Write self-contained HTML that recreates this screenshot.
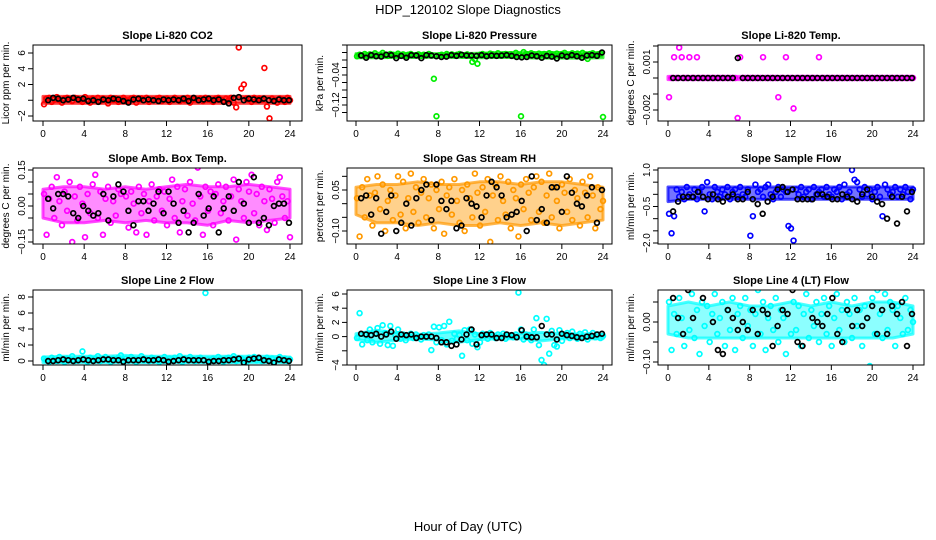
<!DOCTYPE html>
<html><head><meta charset="utf-8"><style>
body{margin:0;background:#fff;}
svg{display:block;font-family:"Liberation Sans",sans-serif;}
</style></head><body>
<svg id="c" width="936" height="540" xmlns="http://www.w3.org/2000/svg">
<rect width="936" height="540" fill="#fff"/>
<text x="468" y="14" text-anchor="middle" font-size="13">HDP_120102  Slope Diagnostics</text>
<text x="468" y="531" text-anchor="middle" font-size="13">Hour of Day (UTC)</text>
</svg>
<script>
const hourTicks = [0,4,8,12,16,20,24];
const bandHours = [0,2,4,6,8,10,12,14,16,18,20,22,24];

const co2Colored = [-0.5,0.2,0.3,-0.2,0.1,0.4,0,-0.3,0.2,0.3,0.1,-0.1,0.3,0.2,0,-0.2,0.4,0.1,-0.3,0.2,0,0.3,-0.1,0.2,0.1,-0.4,0.3,0,0.2,-0.2,0.1,0.3,0,-0.1,0.2,0.3,-0.3,0.1,0.2,0,0.3,-0.2,0.1,0,0.2,0.3,-0.1,0.1,0.2,-0.2,0,0.3,0.1,-0.1,0.2,0,0.3,-0.3,0.1,0.2,0,0.2,-0.1,0.3,0.1,0,-0.2,0.2,0.3,0.1,-0.1,0.2,0,0.3,-0.3,-0.9,6.7,1.5,2.0,0.2,0.1,-0.2,0.3,0,0.2,0.1,4.1,-0.8,-2.3,0.2,0,-0.3,0.2,0.1,-0.2,0.3,0];
const co2Black = [0,0.3,0.2,0,0.1,0.3,0.1,0.2,-0.1,0,-0.2,0.1,0,0.2,0.1,-0.1,-0.3,0.1,0.2,0,0.1,0,-0.1,0.1,0,0.1,0,0.2,-0.1,0.3,0,0.1,0.2,0,0.1,-0.2,-0.4,0.3,0.4,0,0.2,0.1,0,0.2,0,-0.1,0.1,0,0];
const co2BandLow = [-0.4,-0.4,-0.4,-0.4,-0.4,-0.4,-0.4,-0.4,-0.4,-0.4,-0.4,-0.4,-0.4];
const co2BandHigh = [0.5,0.5,0.5,0.5,0.5,0.5,0.5,0.5,0.5,0.5,0.5,0.5,0.5];

const presColored = [0.010,0.014,0.012,0.016,0.011,0.015,0.013,0.018,0.012,0.014,0.019,0.013,0.011,0.016,0.014,0.012,0.017,0.013,0.015,0.011,0.014,0.016,0.012,0.013,0.015,0.011,0.014,0.012,0.016,0.013,-0.05,-0.15,0.012,0.014,0.011,0.016,0.013,0.015,0.012,0.014,0.016,0.012,0.013,0.015,0.011,-0.005,0.002,-0.01,0.014,0.016,0.013,0.012,0.017,0.015,0.013,0.018,0.012,0.014,0.016,0.013,0.015,0.012,0.019,0.014,-0.15,0.021,0.016,0.013,0.018,0.015,0.012,0.017,0.014,0.016,0.011,0.018,0.015,0.013,0.017,0.012,0.016,0.019,0.014,0.013,0.018,0.015,0.017,0.012,0.019,0.014,0.003,0.016,0.018,0.013,0.015,0.017,-0.152];
const presBlack = [0.012,0.006,0.013,0.010,0.009,0.014,0.013,0.005,0.011,0.006,0.013,0.012,0.005,0.013,0.012,0.010,0.008,0.009,0.013,0.011,0.014,0.012,0.012,0.011,0.013,0.010,0.012,0.011,0.012,0.013,0.011,0.008,0.007,0.008,0.012,0.010,0.006,0.011,0.009,0.004,0.012,0.009,0.013,0.010,0.006,0.012,0.013,0.011,0.020];
const presBandLow = [0.006,0.006,0.007,0.007,0.007,0.007,0.006,0.007,0.006,0.005,0.005,0.005,0.006];
const presBandHigh = [0.017,0.018,0.018,0.017,0.017,0.017,0.018,0.020,0.020,0.020,0.020,0.020,0.019];

const tempColored = [-0.0012,0,0.0013,0,0.0019,0.0013,0,0,0.0013,0,0,0.0013,0,0,0,0,0,0,0,0,0,0,0,0,0,0,0,-0.0025,0.0013,0,0,0,0,0,0,0,0,0.0013,0,0,0,0,0,-0.0012,0,0,0.0013,0,0,-0.0019,0,0,0,0,0,0,0,0,0,0.0013,0,0,0,0,0,0,0,0,0,0,0,0,0,0,0,0,0,0,0,0,0,0,0,0,0,0,0,0,0,0,0,0,0,0,0,0,0];
const tempBlack = [0,0,0,0,0,0,0,0,0,0,0,0,0,0.00125,0,0,0,0,0,0,0,0,0,0,0,0,0,0,0,0,0,0,0,0,0,0,0,0,0,0,0,0,0,0,0,0,0,0,0];
const tempBandLow = [-0.0001,-0.0001,-0.0001,-0.0001,-0.0001,-0.0001,-0.0001,-0.0001,-0.0001,-0.0001,-0.0001,-0.0001,-0.0001];
const tempBandHigh = [0.0001,0.0001,0.0001,0.0001,0.0001,0.0001,0.0001,0.0001,0.0001,0.0001,0.0001,0.0001,0.0001];

const ambColored = [0.05,-0.12,0.03,0.08,-0.05,0.12,0.02,-0.08,0.06,-0.02,0.10,-0.15,0.04,-0.06,0.08,0.01,-0.13,0.05,-0.03,0.09,0.13,-0.05,0.06,-0.12,0.03,0.08,-0.07,0.02,-0.04,0.07,0.05,-0.17,0.04,-0.09,0.06,0.01,-0.11,0.08,-0.03,0.05,-0.12,0.02,0.09,-0.06,0.04,0.07,-0.02,0.06,-0.08,0.03,0.11,-0.05,0.08,-0.11,0.02,0.07,-0.04,0.10,0.01,-0.06,0.16,0.04,-0.12,0.08,-0.02,0.06,-0.08,0.05,0.09,-0.03,0.02,0.08,-0.06,0.04,0.11,-0.14,0.07,0.02,-0.05,0.10,0.06,0.13,-0.03,0.05,-0.08,0.08,0.02,-0.10,0.07,0.03,-0.07,0.10,0.12,0.04,-0.05,0.02,-0.13];
const ambBlack = [0.03,-0.01,0.05,0.05,0.04,-0.03,-0.05,0,-0.02,-0.04,-0.03,0.05,-0.06,0.04,0.09,0.06,-0.02,-0.08,0.02,0.02,-0.02,0.01,0.06,-0.03,0.06,0.01,-0.07,-0.02,-0.11,-0.07,0.05,-0.04,-0.01,0.04,-0.11,-0.01,0.04,-0.02,0.10,0.01,-0.07,0.12,-0.07,-0.05,-0.08,0,0.01,0.01,-0.07];
const ambBandLow = [-0.05,-0.07,-0.07,-0.06,-0.07,-0.06,-0.07,-0.07,-0.08,-0.06,-0.07,-0.06,-0.05];
const ambBandHigh = [0.07,0.08,0.08,0.07,0.08,0.07,0.08,0.09,0.08,0.08,0.09,0.08,0.07];

const rhColored = [0.02,-0.12,0.06,-0.05,0.09,0.03,-0.08,0.04,0.10,-0.02,0.07,-0.10,0.01,0.05,-0.06,0.03,0.10,-0.04,0.08,-0.09,0.02,0.11,-0.03,0.06,-0.07,0.04,0.09,-0.05,0.02,0.07,-0.09,0.05,-0.02,0.08,-0.11,0.03,0.06,-0.04,0.09,0.01,-0.07,0.05,-0.10,0.07,0.02,-0.05,0.11,0.04,-0.08,0.06,-0.03,0.09,-0.14,0.03,0.07,-0.06,0.10,0.01,-0.04,0.08,-0.09,0.05,0.02,-0.12,0.07,-0.02,0.09,0.04,-0.06,0.06,0.10,-0.03,0.08,-0.07,0.03,0.11,-0.05,0.06,0.01,-0.09,0.07,0.04,-0.03,0.09,-0.06,0.05,0.02,-0.08,0.08,0.04,-0.05,0.10,0.03,-0.09,0.06,-0.02,0.01];
const rhBlack = [0.02,0.03,-0.04,0.02,-0.11,-0.03,0.03,-0.10,-0.07,0,-0.08,0.02,0.05,0.07,-0.06,0.07,0.01,-0.02,0.01,-0.09,-0.08,0.02,0,-0.01,-0.05,0.03,0.08,0.06,0.03,-0.05,-0.04,-0.03,0.01,-0.10,0.10,-0.06,-0.02,-0.07,0.06,0.06,-0.03,0.10,0.04,0,-0.01,0.03,0.06,-0.07,0.05];
const rhBandLow = [-0.04,-0.07,-0.07,-0.08,-0.07,-0.08,-0.08,-0.07,-0.08,-0.07,-0.08,-0.07,-0.06];
const rhBandHigh = [0.06,0.07,0.07,0.08,0.07,0.07,0.08,0.08,0.07,0.08,0.08,0.07,0.06];

const flowColored = [-0.8,-1.6,-0.9,0.2,-0.1,0.1,-0.2,0.3,0,-0.1,0.2,-0.2,0.1,0.3,-0.7,0.5,0,-0.2,0.3,0.1,-0.1,0.2,0,0.3,-0.2,0.1,0.2,-0.1,0.3,0,-0.1,0.2,-1.7,-0.9,0.4,0.1,0.2,-0.1,0.3,0.4,0,-0.2,0.1,0.3,-0.1,0.2,0.1,-1.3,-1.4,-1.9,0.2,0,0.3,-0.1,0.1,0.2,-0.2,0.3,0,0.1,0.2,-0.1,0.3,0,-0.1,0.2,0.1,0.3,-0.2,0.4,0,0.1,1.0,0.6,0.5,0.2,-0.1,0.3,0,0.2,-0.2,0.1,0.3,-0.1,-0.9,0.4,0.2,0,0.1,0.3,-0.1,0.2,0,0.3,0.1,-0.2,0.2];
const flowBlack = [-0.7,-0.3,-0.1,-0.1,-0.1,0.1,-0.1,-0.2,0,-0.2,-0.3,-0.1,0.0,-0.2,-0.2,0.1,-0.2,-0.4,-0.8,-0.3,-0.1,0.2,0.3,0.1,0.2,-0.2,-0.2,-0.2,-0.2,0,0,-0.1,-0.2,-0.2,0,-0.1,-0.2,-0.3,0,0.2,-0.1,-0.3,-0.4,-1.0,-0.1,-1.2,-0.1,-0.7,0.1];
const flowBandLow = [-0.3,-0.2,-0.2,-0.2,-0.2,-0.2,-0.2,-0.2,-0.2,-0.2,-0.2,-0.2,-0.2];
const flowBandHigh = [0.3,0.3,0.3,0.3,0.3,0.3,0.3,0.3,0.3,0.3,0.3,0.3,0.3];

const line2Colored = [0.3,0.1,-0.1,0.4,0.2,0,0.5,0.1,-0.1,0.3,0.2,0.6,0,0.1,0.3,1.2,0.2,-0.1,0.4,0.1,0.3,0.6,0,0.2,0.5,0.1,-0.1,0.3,0.2,0.4,0.7,0,0.3,0.1,0.5,0.2,-0.1,0.3,0.6,0.1,0.2,0,0.4,0.3,0.1,-0.1,0.2,0.5,0,0.3,0.1,0.4,0.2,0.6,-0.1,0.3,0.1,0.5,0.2,0,0.3,0.4,0.1,8.5,0.2,0,0.3,0.1,0.5,0.2,-0.1,0.3,0.4,0.1,0.6,0,0.2,0.3,0.1,-0.1,0.4,0.2,0.5,0.1,0.3,0,0.2,0.4,0.1,0.3,-0.1,0.2,0.5,0.1,0.3,0,0.2];
const line2Black = [0,0,0.1,0.2,0.1,0,0.1,0.2,0.1,0,0.1,0.2,0.2,0.1,0.1,-0.1,0.1,0.1,0.1,0.2,0.1,0.1,0.2,0.1,-0.1,0,0.1,0.2,0.1,0.1,0.1,0.1,-0.1,0,0,0.1,0.1,0.2,0.3,-0.2,0.2,0.3,0.4,0.1,0,-0.2,0.2,0.1,0];
const line2BandLow = [-0.2,-0.2,-0.2,-0.2,-0.2,-0.2,-0.2,-0.2,-0.2,-0.2,-0.2,-0.2,-0.2];
const line2BandHigh = [0.5,0.6,0.6,0.6,0.7,0.6,0.6,0.6,0.6,0.6,0.6,0.6,0.5];

const line3Colored = [-0.2,3.3,-1.1,0.3,-0.5,1.0,-0.8,0.4,1.2,-1.0,1.6,0.5,-1.2,1.5,-1.3,0.2,1.0,-0.3,0.3,-0.5,0.1,0.4,-0.2,0.3,0,-0.4,0.2,-0.1,0.3,-1.9,1.4,-0.8,1.3,-0.5,1.5,-1.1,2.1,-0.6,0.4,-0.3,0.2,-2.7,0.9,-0.5,1.0,-1.0,0.3,-1.5,-0.8,0.4,0.2,-0.3,0.5,0.1,-0.2,0.3,0,0.4,-0.3,0.2,0.1,-0.1,0.3,6.2,1.0,-0.4,0.3,0.2,-0.5,1.0,2.6,-1.2,-3.3,-4.0,2.5,-2.4,0.8,-1.2,-1.4,0.9,-0.6,0.3,0.5,-0.2,0.7,0.1,-0.3,0.4,0,0.6,-0.4,0.2,0.5,-0.1,0.3,-0.2,0.1];
const line3Black = [0.4,0.3,0.2,0.4,0,0.3,0.7,-0.3,0.3,0.2,0.3,-0.2,0,0,0,-0.2,-0.8,-0.8,-1.3,-1.1,-0.4,0.3,1.0,-1.1,0.2,0.3,0.3,-0.2,-0.2,0.3,0.2,-0.1,0.9,0,-0.1,-0.1,1.5,0.3,0.3,-0.4,0.4,0.2,0.1,-0.1,-0.2,0,0.1,0.3,0.4];
const line3BandLow = [-0.4,-0.8,-0.5,-0.3,-0.5,-0.8,-0.4,-0.3,-0.3,-0.6,-0.3,-0.3,-0.3];
const line3BandHigh = [0.4,0.9,0.5,0.3,0.5,0.8,0.4,0.3,0.4,0.6,0.4,0.4,0.3];

const line4Colored = [0.05,-0.07,0.02,-0.03,0.06,0.01,-0.06,0.09,-0.02,0.07,-0.04,0.03,-0.08,0.05,-0.01,0.04,-0.05,0.02,0.07,-0.03,0.01,0.05,-0.06,0.03,-0.02,0.06,-0.07,0.02,0.04,-0.04,0.06,-0.01,0.03,-0.06,0.02,0.08,-0.03,0.05,-0.07,0.01,0.04,-0.02,0.06,-0.05,0.03,0.01,-0.08,0.09,-0.03,0.05,-0.02,0.04,-0.06,0.02,0.07,-0.04,0.03,-0.01,0.05,-0.05,0.02,0.06,-0.03,0.04,-0.06,0.01,0.07,-0.02,0.03,-0.05,0.05,0.02,-0.04,0.06,-0.01,0.03,-0.06,0.04,0.01,-0.11,0.06,-0.03,0.08,0.02,-0.04,0.07,-0.02,0.05,0.03,-0.06,0.04,0.01,-0.03,0.06,-0.02,0.03,0];
const line4Black = [0.06,0.01,-0.03,0.08,0.01,0.10,0.06,0.10,0,-0.07,-0.08,0.03,0.01,-0.02,0,-0.02,0.03,-0.03,0.03,0.02,-0.06,-0.01,0.03,0.02,0.08,-0.05,-0.06,0.09,0.01,0,-0.01,0.02,0.06,-0.03,-0.05,0.03,-0.01,0.03,-0.01,0.01,0.04,-0.03,0.03,-0.03,0.04,0.02,0.05,-0.06,0.02];
const line4BandLow = [-0.03,-0.04,-0.04,-0.04,-0.04,-0.04,-0.04,-0.04,-0.04,-0.04,-0.04,-0.04,-0.03];
const line4BandHigh = [0.04,0.05,0.04,0.05,0.04,0.04,0.05,0.04,0.05,0.04,0.05,0.05,0.04];

const svg = document.getElementById('c');
const NS = 'http://www.w3.org/2000/svg';
function mk(tag, attrs, parent){
  const e = document.createElementNS(NS, tag);
  for (const k in attrs) e.setAttribute(k, attrs[k]);
  (parent || svg).appendChild(e);
  return e;
}

const cols = [{l:33,r:302,h0:43,h24:290},{l:347,r:612,h0:356,h24:603},{l:658,r:924,h0:668,h24:913}];
const rows = [{t:45,b:121},{t:168,b:244},{t:290,b:365}];

const panels = [
 {key:'co2',title:'Slope Li-820 CO2',ylab:'Licor ppm per min.',col:0,row:0,v1:-2,p1:116,v2:6,p2:53,ticks:[-2,0,2,4,6],labels:['\u22122','','2','4','6'],color:'#ff0000',op:0.6,colored:co2Colored,black:co2Black,lo:co2BandLow,hi:co2BandHigh},
 {key:'pressure',title:'Slope Li-820 Pressure',ylab:'kPa per min.',col:1,row:0,v1:-0.04,p1:75,v2:-0.12,p2:105,ticks:[0.04,0.02,0,-0.02,-0.04,-0.06,-0.08,-0.10,-0.12,-0.14],labels:['','','','','\u22120.04','','','','\u22120.12',''],color:'#00ee00',op:0.6,colored:presColored,black:presBlack,lo:presBandLow,hi:presBandHigh},
 {key:'temp',title:'Slope Li-820 Temp.',ylab:'degrees C per min.',col:2,row:0,v1:0.001,p1:62,v2:-0.002,p2:110,ticks:[0.002,0.001,0,-0.001,-0.002],labels:['','0.001','','','\u22120.002'],color:'#ff00ff',op:0.6,colored:tempColored,black:tempBlack,lo:tempBandLow,hi:tempBandHigh},
 {key:'amb',title:'Slope Amb. Box Temp.',ylab:'degrees C per min.',col:0,row:1,v1:0.15,p1:170,v2:-0.15,p2:242,ticks:[0.15,0.10,0.05,0,-0.05,-0.10,-0.15],labels:['0.15','','','0.00','','','\u22120.15'],color:'#ff00ff',op:0.45,colored:ambColored,black:ambBlack,lo:ambBandLow,hi:ambBandHigh},
 {key:'rh',title:'Slope Gas Stream RH',ylab:'percent per min.',col:1,row:1,v1:0.05,p1:190,v2:-0.10,p2:231,ticks:[0.10,0.05,0,-0.05,-0.10],labels:['','0.05','','','\u22120.10'],color:'#ff9900',op:0.45,colored:rhColored,black:rhBlack,lo:rhBandLow,hi:rhBandHigh},
 {key:'flow',title:'Slope Sample Flow',ylab:'ml/min per min.',col:2,row:1,v1:1.0,p1:170,v2:-2.0,p2:243,ticks:[1,0.5,0,-0.5,-1,-1.5,-2],labels:['1.0','','','\u22120.5','','','\u22122.0'],color:'#0000ff',op:0.55,colored:flowColored,black:flowBlack,lo:flowBandLow,hi:flowBandHigh},
 {key:'line2',title:'Slope Line 2 Flow',ylab:'ml/min per min.',col:0,row:2,v1:0,p1:361,v2:8,p2:297,ticks:[0,2,4,6,8],labels:['0','2','4','6','8'],color:'#00ffff',op:0.6,colored:line2Colored,black:line2Black,lo:line2BandLow,hi:line2BandHigh},
 {key:'line3',title:'Slope Line 3 Flow',ylab:'ml/min per min.',col:1,row:2,v1:6,p1:294,v2:-4,p2:365,ticks:[-4,-2,0,2,4,6],labels:['\u22124','','0','2','4','6'],color:'#00ffff',op:0.6,colored:line3Colored,black:line3Black,lo:line3BandLow,hi:line3BandHigh},
 {key:'line4',title:'Slope Line 4 (LT) Flow',ylab:'ml/min per min.',col:2,row:2,v1:0,p1:322,v2:-0.10,p2:362,ticks:[0.05,0,-0.05,-0.10],labels:['','0.00','','\u22120.10'],color:'#00ffff',op:0.45,colored:line4Colored,black:line4Black,lo:line4BandLow,hi:line4BandHigh}
];

panels.forEach(p => {
  const c = cols[p.col], r = rows[p.row];
  const g = mk('g', {});
  
  
  const xs = h => c.h0 + (c.h24 - c.h0) * h / 24;
  const ys = v => p.p1 + (v - p.v1) * (p.p2 - p.p1) / (p.v2 - p.v1);
  const t = mk('text', {x:(c.l + c.r) / 2, y:r.t - 6, 'text-anchor':'middle', 'font-size':'11', 'font-weight':'bold'}, g);
  t.textContent = p.title;
  
  
  const yl = mk('text', {transform:`translate(${c.l - 24},${(r.t + r.b) / 2}) rotate(-90)`, 'text-anchor':'middle', 'font-size':'10'}, g);
  yl.textContent = p.ylab;
  
  
  const cid = 'clip-' + p.key;
  const cp = mk('clipPath', {id:cid}, g);
  mk('rect', {x:c.l, y:r.t, width:c.r - c.l, height:r.b - r.t}, cp);
  const pg = mk('g', {'clip-path':`url(#${cid})`}, g);
  let d = '';
  bandHours.forEach((h, i) => { d += (i ? 'L' : 'M') + xs(h) + ',' + ys(p.hi[i]); });
  for (let i = bandHours.length - 1; i >= 0; i--) d += 'L' + xs(bandHours[i]) + ',' + ys(p.lo[i]);
  const band = mk('path', {d:d + 'Z', fill:p.color, 'fill-opacity':p.op, stroke:p.color, 'stroke-opacity':0.7, 'stroke-width':3, 'stroke-linejoin':'round'}, pg);
  
  
  const n = p.colored.length;
  p.colored.forEach((v, i) => {
    const h = 0.1 + 23.9 * i / (n - 1);
    const m = mk('circle', {cx:xs(h), cy:ys(v), r:2.4, fill:'none', stroke:p.color, 'stroke-width':1.7}, pg);
    
    
  });
  const nb = p.black.length;
  p.black.forEach((v, i) => {
    const h = 0.5 + 23.4 * i / (nb - 1);
    const m = mk('circle', {cx:xs(h), cy:ys(v), r:2.4, fill:'none', stroke:'#000', 'stroke-width':1.7}, pg);
    
    
  });
  const box = mk('rect', {x:c.l, y:r.t, width:c.r - c.l, height:r.b - r.t, fill:'none', stroke:'#000', 'stroke-width':1}, g);
  
  
  hourTicks.forEach(h => {
    mk('line', {x1:xs(h), x2:xs(h), y1:r.b, y2:r.b + 5, stroke:'#000'}, g);
    const lt = mk('text', {x:xs(h), y:r.b + 16, 'text-anchor':'middle', 'font-size':'10'}, g);
    lt.textContent = h;
    
    
  });
  p.ticks.forEach((v, i) => {
    const y = ys(v);
    if (y < r.t - 1 || y > r.b + 1) return;
    mk('line', {x1:c.l - 5, x2:c.l, y1:y, y2:y, stroke:'#000'}, g);
    if (p.labels[i]) {
      const lt = mk('text', {transform:`translate(${c.l - 8},${y}) rotate(-90)`, 'text-anchor':'middle', 'font-size':'10'}, g);
      lt.textContent = p.labels[i];
      
      
    }
  });
});
</script>
</body></html>
